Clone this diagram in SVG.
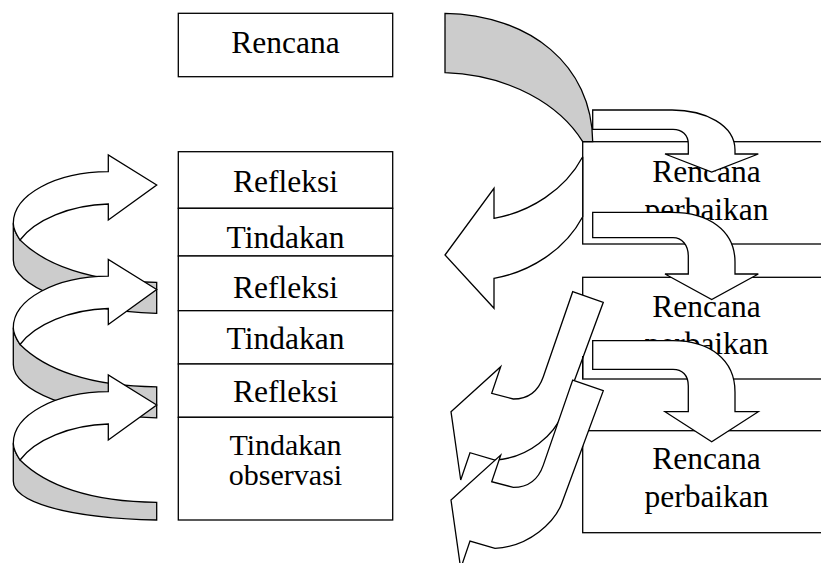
<svg xmlns="http://www.w3.org/2000/svg" xmlns:xlink="http://www.w3.org/1999/xlink" width="821" height="563" viewBox="0 0 821 563">
<style>
.box{fill:#fff;stroke:#000;stroke-width:1.3}
.lbl{font-family:'Liberation Serif','DejaVu Serif','Times New Roman',serif;font-size:31.5px;text-anchor:middle;fill:#000}
.sm{font-size:30px}
.arw{fill:#fff;stroke:#000;stroke-width:1.3;stroke-linejoin:miter}
.back{fill:#cccccc;stroke:#000;stroke-width:1.3;stroke-linejoin:miter}
.ln{fill:none;stroke:#000;stroke-width:1.3}
</style>
<defs>
<path id="sBack" class="back" d="M13.3,223.3 L13.3,260 C13.3,285 70,310 156.7,313.3 L156.7,282.3 C90,282 45,265 20,240 C16,234 13.3,229 13.3,223.3 Z"/>
<path id="sArc" class="arw" d="M108.3,171.7 L108.3,155 L156.7,185 L108.3,220 L108.3,204 C70,205 35,220 20,240 C16,234 13.3,229 13.3,223.3 C13.3,195 55,172 108.3,171.7 Z"/>
<path id="jArrow" class="arw" d="M572.7,291.7 L603.3,302.3 L561.7,415 C555,433 530,458 495,460 L470,452.7 L460.7,480 L451,411.7 L500.7,366.7 L491.7,393.3 L513.3,399 C528,399 538,392 543.3,376.7 Z"/>
</defs>
<g id="node-rencana"><rect class="box" x="178.3" y="13.3" width="214.4" height="63.4"/><text class="lbl" x="285.5" y="53.3">Rencana</text></g>
<g id="node-refleksi1"><rect class="box" x="178.3" y="151.7" width="214.4" height="56.6"/><text class="lbl" x="285.5" y="191.7">Refleksi</text></g>
<g id="node-tindakan1"><rect class="box" x="178.3" y="208.3" width="214.4" height="47.7"/><text class="lbl" x="285.5" y="248.3">Tindakan</text></g>
<g id="node-refleksi2"><rect class="box" x="178.3" y="256" width="214.4" height="54.7"/><text class="lbl" x="285.5" y="297.7">Refleksi</text></g>
<g id="node-tindakan2"><rect class="box" x="178.3" y="310.7" width="214.4" height="53.3"/><text class="lbl" x="285.5" y="349">Tindakan</text></g>
<g id="node-refleksi3"><rect class="box" x="178.3" y="364" width="214.4" height="53.3"/><text class="lbl" x="285.5" y="402.3">Refleksi</text></g>
<g id="node-tindakan-observasi"><rect class="box" x="178.3" y="417.3" width="214.4" height="102.7"/><text class="lbl sm" x="285.5" y="455">Tindakan</text><text class="lbl sm" x="285.5" y="485">observasi</text></g>
<g id="node-perbaikan1"><rect class="box" x="582.7" y="141.7" width="260" height="102.3"/><text class="lbl" x="706.5" y="182">Rencana</text><text class="lbl" x="706.5" y="220">perbaikan</text></g>
<g id="node-perbaikan2"><rect class="box" x="582.7" y="277.3" width="260" height="101.7"/><text class="lbl" x="706.5" y="316.7">Rencana</text><text class="lbl" x="706.5" y="354">perbaikan</text></g>
<g id="node-perbaikan3"><rect class="box" x="582.7" y="430.7" width="260" height="102"/><text class="lbl" x="706.5" y="469.3">Rencana</text><text class="lbl" x="706.5" y="506.5">perbaikan</text></g>
<g id="connectors">
<use xlink:href="#sBack"/><use xlink:href="#sArc"/>
<use xlink:href="#sBack" y="104.5"/><use xlink:href="#sArc" y="104.5"/>
<path class="back" d="M13.3,443.3 L13.3,481 C13.3,500 60,518 156.7,520 L156.7,502.3 C90,502 45,485 20,460 C16,454 13.3,449 13.3,443.3 Z"/>
<use xlink:href="#sArc" y="220"/>
<path class="back" d="M445,13.3 C530,15 592,65 592.7,141.7 L582.7,141.7 C560,105 510,75 445,72.7 Z"/>
<path class="arw" d="M582.7,156.7 C565,190 530,212 494,218.3 L494,188.3 L445,255 L494,308.3 L494,278.3 C530,272 565,250 582.7,216.7 Z"/>
<path class="arw" d="M592.7,110 L672,110 C705,110 735,125 735,150 L735,154 L758.3,154 L711.7,172 L665,154 L688.3,154 L688.3,144 C688.3,135 682,129.3 673,129.3 L592.7,129.3 Z"/>
<path class="arw" d="M592.7,212.3 L672,212.3 C708,212.3 735,230 735,262 L735,274 L758.3,274 L711.7,299.5 L665,274 L688.3,274 L688.3,256 C688.3,245 682,237.7 673,237.7 L592.7,237.7 Z"/>
<path class="arw" d="M592.7,340.7 L673,340.7 C710,340.7 735,360 735,392 L735,411.7 L758.3,411.7 L711.7,441.7 L665,411.7 L688.3,411.7 L688.3,386 C688.3,375 682,369.3 673,369.3 L592.7,369.3 Z"/>
<use xlink:href="#jArrow"/>
<use xlink:href="#jArrow" y="88.4"/>
</g>
<path class="ln" d="M582.7,356 V378.5"/>
</svg>
